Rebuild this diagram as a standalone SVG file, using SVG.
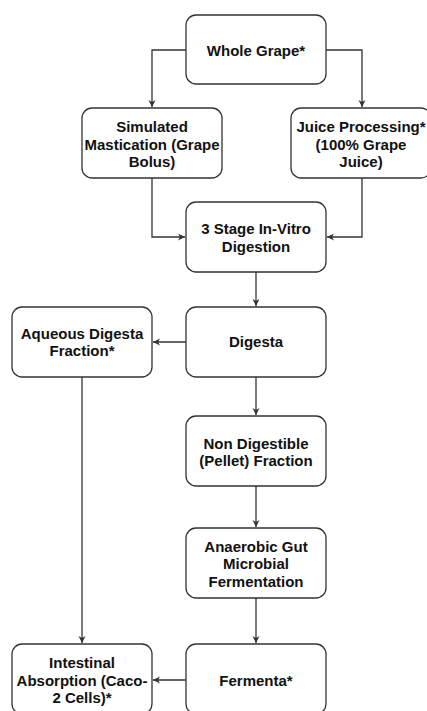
<svg xmlns="http://www.w3.org/2000/svg" width="427" height="711" viewBox="0 0 427 711">
<style>
.box{fill:#fff;stroke:#333;stroke-width:1.3}
.t{font-family:"Liberation Sans",Arial,sans-serif;font-weight:bold;font-size:15px;fill:#111;text-anchor:middle}
.c{fill:none;stroke:#333;stroke-width:1.3;marker-end:url(#ah)}
</style>
<defs>
<marker id="ah" markerWidth="8" markerHeight="8" refX="7" refY="4" orient="auto" markerUnits="userSpaceOnUse">
<path d="M0,0.5 L7,4 L0,7.5 L2,4 Z" fill="#333"/>
</marker>
</defs>
<rect width="427" height="711" fill="#fff"/>
<g id="connectors">
<path class="c" d="M186,50 H152 V107"/>
<path class="c" d="M326,50 H362 V107"/>
<path class="c" d="M152,178 V237 H185"/>
<path class="c" d="M362,178 V237 H327"/>
<path class="c" d="M256,272 V306"/>
<path class="c" d="M186,342 H153"/>
<path class="c" d="M256,377 V415"/>
<path class="c" d="M256,486 V527"/>
<path class="c" d="M256,598 V643"/>
<path class="c" d="M82,377 V643"/>
<path class="c" d="M186,680 H153"/>
</g>
<g id="whole-grape"><rect class="box" x="186" y="15" width="140" height="69" rx="10"/><text class="t" x="256" y="56">Whole Grape*</text></g>
<g id="mastication"><rect class="box" x="82" y="108" width="140" height="70" rx="10"/><text class="t" x="152" y="132">Simulated</text><text class="t" x="152" y="149.5">Mastication (Grape</text><text class="t" x="152" y="167">Bolus)</text></g>
<g id="juice"><rect class="box" x="291" y="108" width="140" height="70" rx="10"/><text class="t" x="361" y="132">Juice Processing*</text><text class="t" x="361" y="149.5">(100% Grape</text><text class="t" x="361" y="167">Juice)</text></g>
<g id="digestion"><rect class="box" x="186" y="202" width="140" height="70" rx="10"/><text class="t" x="256" y="234">3 Stage In-Vitro</text><text class="t" x="256" y="251.5">Digestion</text></g>
<g id="digesta"><rect class="box" x="186" y="307" width="140" height="70" rx="10"/><text class="t" x="256" y="346.5">Digesta</text></g>
<g id="aqueous"><rect class="box" x="12" y="307" width="140" height="70" rx="10"/><text class="t" x="82" y="338.5">Aqueous Digesta</text><text class="t" x="82" y="356">Fraction*</text></g>
<g id="non-digestible"><rect class="box" x="186" y="416" width="140" height="70" rx="10"/><text class="t" x="256" y="448.5">Non Digestible</text><text class="t" x="256" y="466">(Pellet) Fraction</text></g>
<g id="anaerobic"><rect class="box" x="186" y="528" width="140" height="70" rx="10"/><text class="t" x="256" y="551.5">Anaerobic Gut</text><text class="t" x="256" y="569">Microbial</text><text class="t" x="256" y="586.5">Fermentation</text></g>
<g id="fermenta"><rect class="box" x="186" y="644" width="140" height="70" rx="10"/><text class="t" x="256" y="685.5">Fermenta*</text></g>
<g id="intestinal"><rect class="box" x="12" y="644" width="140" height="70" rx="10"/><text class="t" x="82" y="668">Intestinal</text><text class="t" x="82" y="685.5">Absorption (Caco-</text><text class="t" x="82" y="703">2 Cells)*</text></g>
</svg>
